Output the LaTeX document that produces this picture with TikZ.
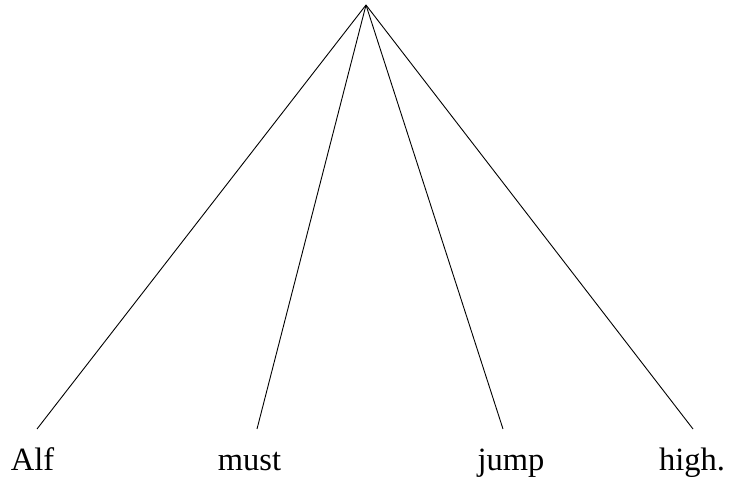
\documentclass[tikz,border=0pt]{standalone}
\usepackage{fontspec}
\setmainfont{Liberation Serif}
\begin{document}
\begin{tikzpicture}[x=1pt,y=1pt,
  word/.style={anchor=base,inner sep=0pt,font=\fontsize{32.5}{36}\selectfont},
  edge/.style={line width=0.9pt}]
\useasboundingbox (0,0) rectangle (731,486);
\coordinate (root) at (366,481);
\coordinate (e1) at (37,57);
\coordinate (e2) at (257,57);
\coordinate (e3) at (503,57);
\coordinate (e4) at (693,57);
\node[word] (w1) at (32.5,15) {Alf};
\node[word] (w2) at (249.5,15) {must};
\node[word] (w3) at (511,15) {jump};
\node[word] (w4) at (692,15) {high.};
\foreach \i in {1,...,4} \draw[edge] (root) -- (e\i);
\end{tikzpicture}
\end{document}
